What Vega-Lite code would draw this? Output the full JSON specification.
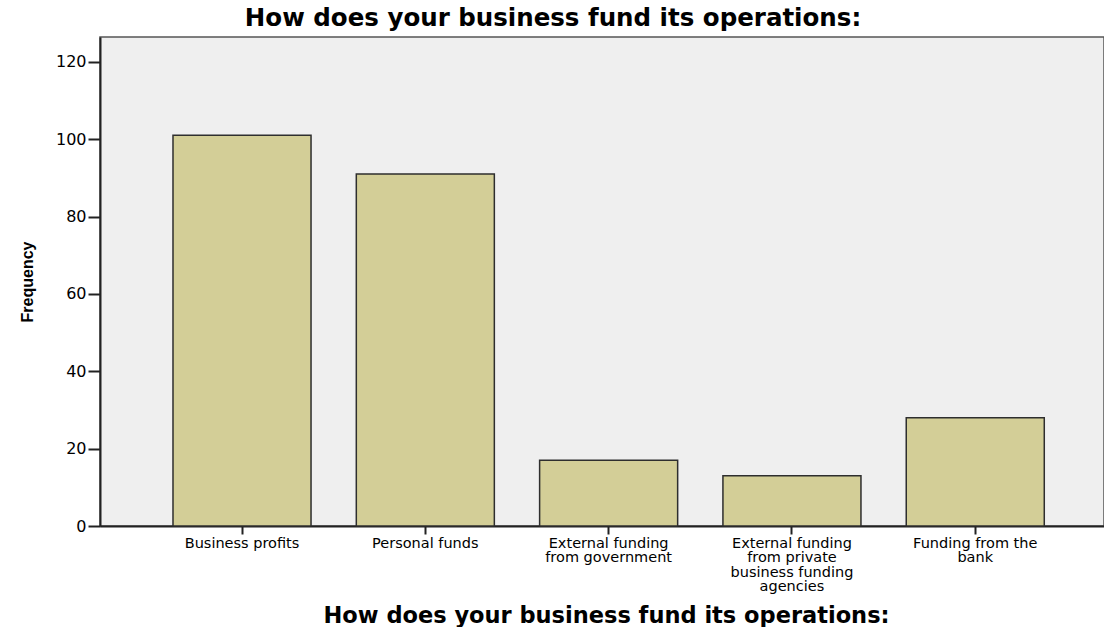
{
  "$schema": "https://vega.github.io/schema/vega-lite/v6.json",
  "autosize": "none",
  "width": 1004,
  "height": 489,
  "padding": {"left": 100, "top": 37, "right": 0, "bottom": 101},
  "background": "#ffffff",
  "title": {
    "text": "How does your business fund its operations:",
    "font": "DejaVu Sans",
    "fontSize": 24.5,
    "fontWeight": "bold",
    "color": "#000000",
    "anchor": "middle",
    "dx": -49,
    "offset": 6
  },
  "config": {
    "view": {"fill": "#EFEFEF", "stroke": "#555555", "strokeWidth": 1.5}
  },
  "data": {
    "values": [
      {"source": "Business profits", "frequency": 101},
      {"source": "Personal funds", "frequency": 91},
      {"source": "External funding from government", "frequency": 17},
      {"source": "External funding from private business funding agencies", "frequency": 13},
      {"source": "Funding from the bank", "frequency": 28}
    ]
  },
  "mark": {"type": "bar", "fill": "#D3CE97", "stroke": "#2E2E2E", "strokeWidth": 1.5},
  "encoding": {
    "x": {
      "field": "source",
      "type": "nominal",
      "sort": null,
      "scale": {"paddingInner": 0.247, "paddingOuter": 0.362, "align": 0.55},
      "axis": {
        "title": "How does your business fund its operations:",
        "titleFont": "DejaVu Sans",
        "titleFontSize": 22.5,
        "titleFontWeight": "bold",
        "titleColor": "#000000",
        "titleX": 506,
        "titleY": 96,
        "titleBaseline": "alphabetic",
        "labelAngle": 0,
        "labelFont": "DejaVu Sans",
        "labelFontSize": 14.5,
        "labelLineHeight": 14.5,
        "labelColor": "#000000",
        "labelPadding": 2,
        "labelBaseline": "top",
        "labelLimit": 300,
        "labelExpr": "datum.value == 'External funding from government' ? ['External funding', 'from government'] : datum.value == 'External funding from private business funding agencies' ? ['External funding', 'from private', 'business funding', 'agencies'] : datum.value == 'Funding from the bank' ? ['Funding from the', 'bank'] : datum.value",
        "tickSize": 8,
        "tickColor": "#222222",
        "tickWidth": 2,
        "domainColor": "#222222",
        "domainWidth": 2,
        "grid": false
      }
    },
    "y": {
      "field": "frequency",
      "type": "quantitative",
      "scale": {"domain": [0, 126.4], "nice": false},
      "axis": {
        "title": "Frequency",
        "titleFont": "Liberation Sans",
        "titleFontSize": 16,
        "titleFontWeight": "bold",
        "titleColor": "#000000",
        "titlePadding": 20,
        "values": [0, 20, 40, 60, 80, 100, 120],
        "labelFont": "DejaVu Sans",
        "labelFontSize": 16,
        "labelColor": "#000000",
        "labelPadding": 2,
        "tickSize": 12,
        "tickColor": "#222222",
        "tickWidth": 2,
        "domainColor": "#222222",
        "domainWidth": 2,
        "grid": false
      }
    }
  }
}
